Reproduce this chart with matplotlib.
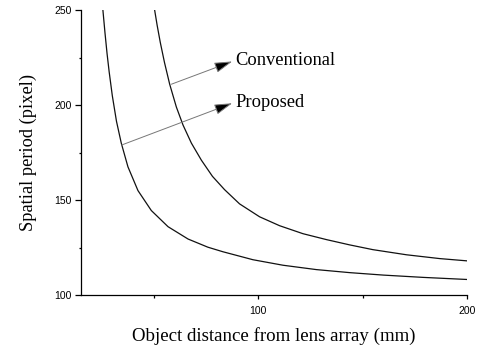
import matplotlib
matplotlib.use("Agg")
import matplotlib.pyplot as plt
from matplotlib.ticker import MultipleLocator

# values
prop_x = [25.5, 26.5, 27.5, 28.5, 30.0, 32.0, 34.3, 37.5, 42.3, 48.7, 56.7,
          66.3, 75.8, 83.0, 97.4, 111.8, 127.8, 143.8, 160.0, 179.0, 200.0]
prop_y = [250, 238, 227, 217.5, 205, 191.5, 180, 167.5, 155, 144.5, 136,
          129.5, 125.2, 122.8, 118.6, 115.7, 113.4, 111.8, 110.5, 109.3, 108.2]

conv_x = [50.3, 51.5, 53.0, 55.0, 57.5, 60.7, 63.9, 67.9, 72.7, 78.0, 83.8,
          91.0, 100.6, 110.2, 121.4, 132.6, 143.8, 154.9, 171.0, 186.9, 200.0]
conv_y = [250, 242, 233, 222.5, 211, 199, 189.5, 180, 171, 162.5, 155.5,
          148, 141.2, 136.5, 132.3, 129.2, 126.4, 123.9, 121.2, 119.2, 118]

# annotation: label, point on curve, arrow tip
labels = ["Conventional", "Proposed"]
label_from = [(58.3, 211), (34.5, 179)]
label_to = [(87.5, 223), (87.5, 201)]

fig = plt.figure(figsize=(4.81, 3.5), dpi=100)
ax = fig.add_axes([0.1684, 0.157, 0.8025, 0.814])

ax.plot(prop_x, prop_y, color="#111111", lw=0.9)
ax.plot(conv_x, conv_y, color="#111111", lw=0.9)

for lab, p0, p1 in zip(labels, label_from, label_to):
    ax.annotate("", xy=p1, xytext=p0,
                arrowprops=dict(arrowstyle="-|>,head_length=1.1,head_width=0.32",
                                edgecolor="#777777", facecolor="black",
                                lw=0.7, shrinkA=0, shrinkB=0, mutation_scale=10))
    ax.text(p1[0] + 1.5, p1[1] + 0.5, lab, fontsize=13.3,
            family="Liberation Serif", va="center", ha="left")

ax.set_xlim(15, 200)
ax.set_ylim(100, 250)
ax.spines["top"].set_visible(False)
ax.spines["right"].set_visible(False)
for s in ["left", "bottom"]:
    ax.spines[s].set_linewidth(0.9)

ax.xaxis.set_major_locator(MultipleLocator(100))
ax.xaxis.set_minor_locator(MultipleLocator(50))
ax.yaxis.set_major_locator(MultipleLocator(50))
ax.yaxis.set_minor_locator(MultipleLocator(25))
ax.tick_params(axis="y", which="major", length=4.5, width=0.9, labelsize=7.5, pad=2)
ax.tick_params(axis="y", which="minor", length=1.8, width=0.9)
ax.tick_params(axis="x", which="major", length=3, width=0.9, labelsize=7.5, pad=5)
ax.tick_params(axis="x", which="minor", length=2.2, width=0.9)
for t in ax.get_xticklabels() + ax.get_yticklabels():
    t.set_family("Liberation Sans")

ax.set_xlabel("Object distance from lens array (mm)", fontsize=13.6,
              family="Liberation Serif", labelpad=8)
ax.set_ylabel("Spatial period (pixel)", fontsize=13.2,
              family="Liberation Serif", labelpad=13)

fig.savefig("out.png", dpi=100)
